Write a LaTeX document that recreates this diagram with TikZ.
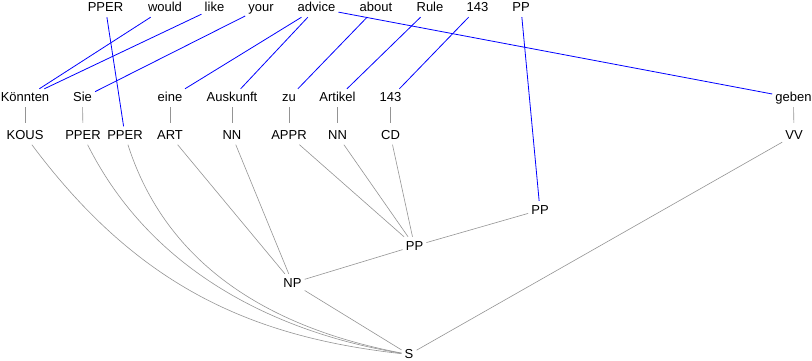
\documentclass[tikz,border=0pt]{standalone}
\usepackage{fontspec}
\setmainfont{Liberation Sans}
\begin{document}
\begin{tikzpicture}[x=1pt,y=-1pt,
  lbl/.style={font=\fontsize{13}{15}\selectfont, text height=10.5pt, text depth=2.5pt,
              inner xsep=3pt, inner ysep=2.5pt, anchor=base},
  treeln/.style={draw=black!42, line width=0.6pt},
  tagln/.style={treeln, shorten >=3.5pt},
  alignln/.style={draw=blue, line width=0.8pt}]
\useasboundingbox (0,0) rectangle (812,361);

% English row
\node[lbl] (e1) at (105.5,12) {PPER};
\node[lbl] (e2) at (165,12) {would};
\node[lbl] (e3) at (214.5,12) {like};
\node[lbl] (e4) at (261,12) {your};
\node[lbl] (e5) at (316.5,12) {advice};
\node[lbl] (e6) at (376,12) {about};
\node[lbl] (e7) at (430,12) {Rule};
\node[lbl] (e8) at (477.5,12) {143};
\node[lbl] (e9) at (521,12) {PP};

% German words
\node[lbl] (g1) at (25,102) {Könnten};
\node[lbl] (g2) at (82.5,102) {Sie};
\node[lbl] (g3) at (170,102) {eine};
\node[lbl] (g4) at (232,102) {Auskunft};
\node[lbl] (g5) at (289,102) {zu};
\node[lbl] (g6) at (337.5,102) {Artikel};
\node[lbl] (g7) at (390.5,102) {143};
\node[lbl] (g8) at (793.5,102) {geben};

% POS tags
\node[lbl] (t1) at (25,139.5) {KOUS};
\node[lbl] (t2) at (83,139.5) {PPER};
\node[lbl] (t3) at (125,139.5) {PPER};
\node[lbl] (t4) at (170,139.5) {ART};
\node[lbl] (t5) at (232,139.5) {NN};
\node[lbl] (t6) at (289,139.5) {APPR};
\node[lbl] (t7) at (337.5,139.5) {NN};
\node[lbl] (t8) at (390.5,139.5) {CD};
\node[lbl] (t9) at (794,139.5) {VV};

% phrase nodes
\node[lbl] (pp2) at (540,214) {PP};
\node[lbl] (pp1) at (414.5,250) {PP};
\node[lbl] (np) at (292.5,287) {NP};
\node[lbl] (s) at (409,358.5) {S};

% word -> tag
\foreach \w/\t in {g1/t1,g2/t2,g3/t4,g4/t5,g5/t6,g6/t7,g7/t8,g8/t9}
  \draw[tagln] (\w) -- (\t);

% tree edges
\draw[treeln] (t4) -- (np);
\draw[treeln] (t5) -- (np);
\draw[treeln] (t6) -- (pp1);
\draw[treeln] (t7) -- (pp1);
\draw[treeln] (t8) -- (pp1);
\draw[treeln] (np) -- (pp1);
\draw[treeln] (pp1) -- (pp2);
\draw[treeln] (np) -- (s);
\draw[treeln] (t9) -- (s);
\draw[treeln] (t1) .. controls (138,287) and (252,337) .. (s);
\draw[treeln] (t2) .. controls (159,287) and (302,337) .. (s);
\draw[treeln] (t3) .. controls (173,285.5) and (302,334) .. (s);

% alignment links
\draw[alignln] (e1) -- (t3);
\draw[alignln] (e2) -- (g1);
\draw[alignln] (e3) -- (g1);
\draw[alignln] (e4) -- (g2);
\draw[alignln] (e5) -- (g3);
\draw[alignln] (e5) -- (g4);
\draw[alignln] (e5) -- (g8);
\draw[alignln] (e6) -- (g5);
\draw[alignln] (e7) -- (g6);
\draw[alignln] (e8) -- (g7);
\draw[alignln] (e9) -- (pp2);
\end{tikzpicture}
\end{document}
